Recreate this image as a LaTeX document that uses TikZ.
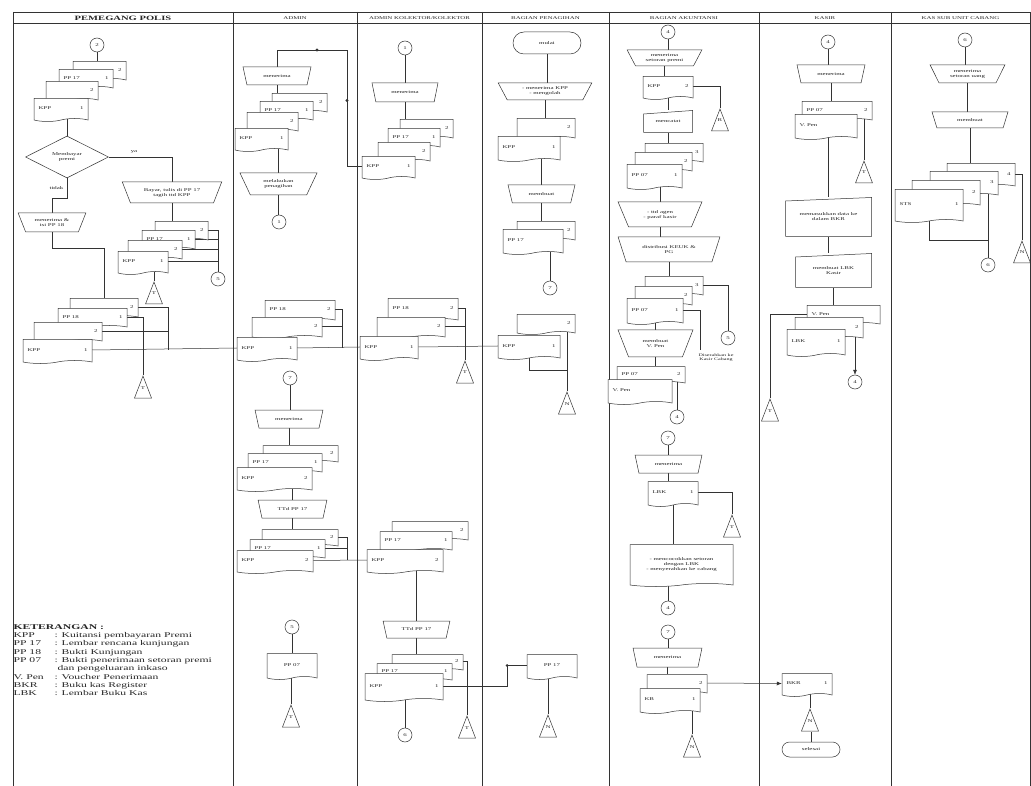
\documentclass[tikz,border=0pt]{standalone}
\usepackage{fontspec}
\setmainfont{Liberation Serif}[FakeStretch=1.6]
\usetikzlibrary{shapes.geometric,shapes.symbols,shapes.misc,decorations.markings,arrows.meta,calc}
\pgfdeclarelayer{background}
\pgfsetlayers{background,main}
\newcommand\mkdoc[7]{\node[doc, minimum width=#4pt-#2pt, minimum height=#5pt-#3pt] (#1) at ({(#2+#4)/2},{(#3+#5)/2}) {\makebox[\dimexpr#4pt-#2pt-9pt\relax]{#6\hfill#7}};}
\newcommand\mktrap[6]{\node[trap, minimum width=#4pt-#2pt, minimum height=#5pt-#3pt] (#1) at ({(#2+#4)/2},{(#3+#5)/2}) {#6};}
\newcommand\mktri[4]{\node[arch] (#1) at (#2,#3) {\raisebox{-4pt}{#4}};}
\newcommand\mkconn[4]{\node[conn] (#1) at (#2,#3) {#4};}
\newcommand\mkman[6]{\node[manin, minimum width=#4pt-#2pt, minimum height=#5pt-#3pt] (#1) at ({(#2+#4)/2},{(#3+#5)/2}) {#6};}
\tikzset{
 x=1pt, y=-1pt,
 every node/.style={font=\fontsize{4.3}{5}\selectfont, text=black!85},
 ln/.style={draw=black!80, line width=0.5pt},
 doc/.style={tape, tape bend top=none, tape bend height=3pt, draw=black!80, line width=0.5pt, fill=white, inner sep=1pt},
 trap/.style={trapezium, shape border rotate=180, trapezium stretches=true, trapezium left angle=58, trapezium right angle=58, draw=black!80, line width=0.5pt, fill=white, inner sep=0pt, align=center},
 conn/.style={circle, draw=black!80, line width=0.5pt, fill=white, minimum size=14pt, inner sep=0pt},
 arch/.style={minimum width=19pt, minimum height=24pt, inner sep=0pt,
   path picture={\draw[draw=black!80, line width=0.5pt] ([shift={(1pt,1pt)}]path picture bounding box.south west) -- ([yshift=-1pt]path picture bounding box.north) -- ([shift={(-1pt,1pt)}]path picture bounding box.south east) -- cycle;}},
 manin/.style={inner sep=1pt, align=center,
   path picture={\draw[draw=black!80, line width=0.5pt] ([shift={(.5pt,.5pt)}]path picture bounding box.south west) -- ([shift={(-.5pt,.5pt)}]path picture bounding box.south east) -- ([shift={(-.5pt,-.5pt)}]path picture bounding box.north east) -- ([shift={(.5pt,-4pt)}]path picture bounding box.north west) -- cycle;}},
 term/.style={rounded rectangle, draw=black!80, line width=0.5pt, fill=white, inner sep=0pt},
 hdr/.style={font=\fontsize{4.3}{5}\selectfont},
 dots/.style={decoration={markings, mark=at position 0.37 with {\fill[black!80] (0,0) circle (1.6pt);}, mark=at position 0.74 with {\fill[black!80] (0,0) circle (1.6pt);}}, postaction={decorate}},
}
\begin{document}
\begin{tikzpicture}
\useasboundingbox (0,0) rectangle (1031,786);
% ---------- headers
\node[font=\bfseries\fontsize{6.6}{7}\selectfont] (hd1) at (123,18) {PEMEGANG POLIS};
\node[hdr] (hd2) at (295,18) {ADMIN};
\node[hdr] (hd3) at (419.5,18) {ADMIN KOLEKTOR/KOLEKTOR};
\node[hdr] (hd4) at (545.5,18) {BAGIAN PENAGIHAN};
\node[hdr] (hd5) at (684,18) {BAGIAN AKUNTANSI};
\node[hdr] (hd6) at (825,18) {KASIR};
\node[hdr] (hd7) at (960.5,18) {KAS SUB UNIT CABANG};
% ---------- lane 1
\mkconn{c1}{97}{45}{2}
\mkdoc{p1a}{73}{60}{126}{80}{}{2}
\mkdoc{p1b}{59}{68}{113}{88}{PP 17}{1}
\mkdoc{p1c}{46}{80}{98}{100}{}{2}
\mkdoc{p1d}{34}{97}{88}{120}{KPP}{1}
\node[diamond, aspect=2, draw=black!80, line width=0.5pt, fill=white, minimum width=83pt, minimum height=42pt, inner sep=0pt, align=center] (d1) at (67,157) {Membayar\\premi};
\mktrap{t1}{122}{182}{222}{203}{Bayar, tulis di PP 17\\tagih ttd KPP}
\mkdoc{p2a}{155}{220}{208}{240}{}{2}
\mkdoc{p2b}{142}{229}{195}{249}{PP 17}{1}
\mkdoc{p2c}{128}{239}{182}{259}{}{2}
\mkdoc{p2d}{118}{250}{168}{273}{KPP}{1}
\mkconn{c2}{218}{279}{5}
\mktri{tr1}{154}{293}{T}
\mktrap{t2}{18}{213}{86}{232}{menerima \&\\isi PP 18}
\mkdoc{p3a}{70}{297}{138}{317}{}{2}
\mkdoc{p3b}{58}{307}{127}{327}{PP 18}{1}
\mkdoc{p3c}{34}{321}{102}{341}{}{2}
\mkdoc{p3d}{23}{338}{92}{362}{KPP}{1}
\mktri{tr2}{143}{387}{T}
\coordinate (j1) at (168,350);
% legend
\node[anchor=north west, align=left, font=\fontsize{7.3}{8.3}\selectfont] (legend) at (10,621) {%
\textbf{KETERANGAN :}\\
\makebox[41pt][l]{KPP}: Kuitansi pembayaran Premi\\
\makebox[41pt][l]{PP 17}: Lembar rencana kunjungan\\
\makebox[41pt][l]{PP 18}: Bukti Kunjungan\\
\makebox[41pt][l]{PP 07}: Bukti penerimaan setoran premi\\
\makebox[44pt][l]{}dan pengeluaran inkaso\\
\makebox[41pt][l]{V. Pen}: Voucher Penerimaan\\
\makebox[41pt][l]{BKR}: Buku kas Register\\
\makebox[41pt][l]{LBK}: Lembar Buku Kas};
% ---------- lane 2
\mktrap{t3}{243}{67}{311}{85}{menerima}
\mkdoc{p4a}{272}{92}{327}{112}{}{2}
\mkdoc{p4b}{260}{100}{313}{120}{PP 17}{1}
\mkdoc{p4c}{247}{111}{298}{131}{}{2}
\mkdoc{p4d}{235}{127}{288}{150}{KPP}{1}
\mktrap{t4}{240}{173}{317}{195}{melakukan\\penagihan}
\mkconn{c3}{279}{222}{1}
\mkdoc{q1a}{265}{299}{335}{320}{PP 18}{2}
\mkdoc{q1b}{252}{316}{322}{337}{}{2}
\mkdoc{q1c}{237}{336}{297}{360}{KPP}{1}
\coordinate (j2) at (342,348);
\mkconn{c4}{290}{378}{7}
\mktrap{t5}{255}{410}{323}{428}{menerima}
\mkdoc{u1a}{263}{444}{338}{462}{}{2}
\mkdoc{u1b}{248}{452}{322}{472}{PP 17}{1}
\mkdoc{u1c}{237}{466}{312}{490}{KPP}{2}
\mktrap{t6}{258}{500}{327}{518}{TTd PP 17}
\mkdoc{u2a}{262}{528}{338}{546}{}{2}
\mkdoc{u2b}{250}{538}{325}{558}{PP 17}{1}
\mkdoc{u2c}{237}{549}{313}{572}{KPP}{2}
\coordinate (j3) at (347,560);
\mkconn{c6}{292}{627}{5}
\mkdoc{x1}{267}{652}{317}{678}{\hfill PP 07}{}
\mktri{tr7}{291}{716}{T}
% ---------- lane 3
\mkconn{c5a}{405}{48}{1}
\mktrap{t7a}{372}{83}{438}{102}{menerima}
\mkdoc{a3a}{400}{118}{453}{138}{}{2}
\mkdoc{a3b}{388}{127}{440}{147}{PP 17}{1}
\mkdoc{a3c}{378}{141}{430}{161}{}{2}
\mkdoc{a3d}{362}{155}{415}{178}{KPP}{1}
\mkdoc{r1a}{388}{297}{458}{320}{PP 18}{2}
\mkdoc{r1b}{377}{316}{445}{337}{}{2}
\mkdoc{r1c}{360}{335}{418}{359}{KPP}{1}
\mktri{tr3}{465}{372}{T}
\mkdoc{v1a}{392}{520}{468}{540}{}{2}
\mkdoc{v1b}{380}{530}{452}{550}{PP 17}{1}
\mkdoc{v1c}{367}{548}{443}{572}{KPP}{2}
\mktrap{t8}{383}{621}{450}{638}{TTd PP 17}
\mkdoc{v2a}{392}{653}{463}{670}{}{2}
\mkdoc{v2b}{377}{662}{452}{680}{PP 17}{1}
\mkdoc{v2c}{365}{672}{443}{700}{KPP}{1}
\mkconn{c7}{405}{735}{6}
\mktri{tr5}{467}{727}{T}
\coordinate (j4) at (507,665.5);
% ---------- lane 4
\node[term, minimum width=68pt, minimum height=22pt] (m1) at (547,43) {mulai};
\mktrap{t9}{498}{83}{592}{100}{- menerima KPP\\- mengolah}
\mkdoc{s1a}{517}{117}{575}{138}{}{2}
\mkdoc{s1b}{498}{135}{560}{160}{KPP}{1}
\mktrap{t10}{508}{185}{575}{203}{membuat}
\mkdoc{s3a}{517}{220}{575}{240}{}{2}
\mkdoc{s3b}{503}{228}{563}{253}{PP 17}{}
\mkconn{c8}{550}{288}{7}
\mkdoc{s2a}{517}{313}{575}{333}{}{2}
\mkdoc{s2b}{498}{334}{560}{358}{KPP}{1}
\mktri{tr4}{567}{403}{N}
\mkdoc{w1}{527}{653}{577}{678}{\hfill PP 17}{}
\mktri{tr6}{548}{726}{N}
% ---------- lane 5
\mkconn{c9}{668}{32}{4}
\mktrap{t11}{627}{50}{702}{66}{menerima\\setoran premi}
\mkdoc{k1}{643}{75}{693}{98}{KPP}{2}
\mktri{tr8}{720}{120}{R}
\mkman{k2}{643}{110}{693}{133}{mencatat}
\mkdoc{k3a}{645}{142}{703}{162}{}{3}
\mkdoc{k3b}{635}{151}{692}{171}{}{2}
\mkdoc{k3c}{627}{163}{682}{188}{PP 07}{1}
\mktrap{t12}{618}{202}{702}{227}{- ttd agen\\- paraf kasir}
\mktrap{t13}{618}{237}{720}{262}{distribusi KEUK \&\\PG}
\mkdoc{k4a}{645}{275}{703}{295}{}{3}
\mkdoc{k4b}{635}{285}{692}{305}{}{2}
\mkdoc{k4c}{627}{297}{683}{323}{PP 07}{1}
\mkconn{c10}{728}{338}{5}
\node[align=center, anchor=north, font=\fontsize{3.8}{4.4}\selectfont] (note) at (716,350) {Diserahkan ke\\Kasir Cabang};
\mktrap{t14}{618}{330}{693}{357}{membuat\\V. Pen}
\mkdoc{k5a}{617}{365}{685}{383}{PP 07}{2}
\mkdoc{k5b}{608}{378}{672}{403}{V. Pen}{}
\mkconn{c11}{677}{417}{4}
\mkconn{c12}{668}{438}{7}
\mktrap{t15}{635}{455}{702}{473}{menerima}
\mkdoc{k6}{648}{480}{698}{505}{LBK}{1}
\mktri{tr9}{732}{526}{T}
\node[doc, align=center, minimum width=103pt, minimum height=42pt] (k7) at (681.5,564) {- mencocokkan setoran\\dengan LBK\\- menyerahkan ke cabang};
\mkconn{c13}{668}{608}{4}
\mkconn{c14}{668}{632}{7}
\mktrap{t16}{633}{648}{702}{667}{menerima}
\mkdoc{k8a}{647}{673}{707}{693}{}{2}
\mkdoc{k8b}{640}{687}{700}{712}{KB}{1}
\mktri{tr10}{692}{746}{N}
% ---------- lane 6
\mkconn{c15}{828}{42}{4}
\mktrap{t17}{797}{65}{865}{83}{menerima}
\mkdoc{g1a}{802}{100}{872}{120}{PP 07}{2}
\mkdoc{g1b}{795}{113}{857}{138}{V. Pen}{}
\mktri{tr12}{864}{172}{T}
\mkman{g2}{785}{197}{872}{237}{memasukkan data ke\\dalam BKR}
\mkman{g3}{795}{253}{872}{288}{membuat LBK\\Kasir}
\mkdoc{g4a}{807}{304}{880}{324}{V. Pen}{}
\mkdoc{g4b}{795}{316}{863}{338}{}{2}
\mkdoc{g4c}{787}{328}{845}{355}{LBK}{1}
\mkconn{c16}{855}{382}{4}
\mktri{tr13}{770}{410}{T}
\mkdoc{n1}{782}{672}{832}{695}{BKR}{1}
\mktri{tr11}{810}{720}{N}
\node[term, minimum width=58pt, minimum height=15pt] (e1) at (811,749.5) {selesai};
% ---------- lane 7
\mkconn{c17}{965}{40}{6}
\mktrap{t18}{930}{65}{1005}{83}{menerima\\setoran uang}
\mktrap{t19}{932}{112}{1008}{128}{membuat}
\mkdoc{h1a}{947}{162}{1015}{186}{}{4}
\mkdoc{h1b}{930}{170}{998}{195}{}{3}
\mkdoc{h1c}{912}{179}{980}{205}{}{2}
\mkdoc{h1d}{895}{188}{963}{221}{STS}{1}
\mktri{tr14}{1022}{252}{N}
\mkconn{c18}{988}{265}{6}

\begin{pgfonlayer}{background}
\fill[white] (0,0) rectangle (1031,786);
\foreach \xx in {13,233,357,482,609,759,891,1030} {\draw[ln] (\xx,12) -- (\xx,786);}
\draw[ln] (13,12) -- (1030,12);
\draw[ln] (13,23) -- (1030,23);
% lane 1
\draw[ln] (c1) -- (c1 |- p1a.north);
\draw[ln] (d1.north) -- (d1.north |- p1d.south);
\draw[ln] (d1.east) -| node[pos=0.2, above] {ya} (t1.north);
\draw[ln] (d1.south) -- node[pos=0.5, left] {tidak} (d1.south |- 0,198) -| (t2.north);
\draw[ln] (t1.south) -- (t1.south |- p2a.north);
\draw[ln] (p2a.east) -| (c2.north);
\draw[ln] (p2b.east) -- (p2b.east -| c2.north);
\draw[ln] (p2c.east) -- (p2c.east -| c2.north);
\draw[ln] (p2d.east) -- (p2d.east -| c2.north);
\draw[ln] (tr1.north) -- (tr1.north |- p2d.south);
\draw[ln] (t2.south) -- (t2.south |- 0,248) -| (p3a.north);
\draw[ln] (p3a.east) -| (j1);
\draw[ln] (p3c.east) -- (p3c.east -| j1);
\draw[ln] (p3b.east) -| (tr2.north);
\draw[ln] (p3d.east) -- (q1c.west);
% lane 2
\draw[ln, dots] (a3d.west) -| (347,50) -| (t3.north);
\draw[ln] (t3.south) -- (t3.south |- p4a.north);
\draw[ln] (t4.north) -- (t4.north |- p4d.south);
\draw[ln] (t4.south) -- (t4.south |- c3.north);
\draw[ln] (q1a.east) -| (j2);
\draw[ln] (q1b.east) -- (q1b.east -| j2);
\draw[ln] (q1c.east) -- (r1c.west);
\draw[ln] (c4.south) -- (c4.south |- t5.north);
\draw[ln] (t5.south) -- (t5.south |- u1a.north);
\draw[ln] (t6.north) -- (t6.north |- u1c.south);
\draw[ln] (t6.south) -- (t6.south |- u2a.north);
\draw[ln] (u2a.east) -| (j3);
\draw[ln] (u2b.east) -- (u2b.east -| j3);
\draw[ln] (u2c.east) -- (v1c.west);
\draw[ln] (c6.south) -- (c6.south |- x1.north);
\draw[ln] (tr7.north) -- (tr7.north |- x1.south);
% lane 3
\draw[ln] (c5a.south) -- (c5a.south |- t7a.north);
\draw[ln] (t7a.south) -- (t7a.south |- a3a.north);
\draw[ln] (r1a.east) -| (tr3.north);
\draw[ln] (r1b.east) -- (r1b.east -| tr3.north);
\draw[ln] (r1c.east) -- (s2b.west);
\draw[ln] (t8.north) -- (t8.north |- v1c.south);
\draw[ln] (t8.south) -- (t8.south |- v2a.north);
\draw[ln] (c7.north) -- (c7.north |- v2c.south);
\draw[ln] (v2a.east) -| (tr5.north);
\draw[ln] (v2c.east) -| (j4) -- (w1.west);
\fill[black!80] (j4) circle (1.5pt);
% lane 4
\draw[ln] (m1.south) -- (m1.south |- t9.north);
\draw[ln] (t9.south) -- (t9.south |- s1a.north);
\draw[ln] (t10.north) -- (t10.north |- s1b.south);
\draw[ln] (t10.south) -- (t10.south |- s3a.north);
\draw[ln] (c8.north) -- (c8.north |- s3b.south);
\draw[ln] (tr4.north) -- (tr4.north |- s2a.south);
\draw[ln] (s2b.south) |- (tr4.north |- 0,370);
\draw[ln] (tr6.north) -- (tr6.north |- w1.south);
% lane 5
\draw[ln] (c9.south) -- (c9.south |- t11.north);
\draw[ln] (t11.south) -- (t11.south |- k1.north);
\draw[ln] (k1.east) -| (tr8.north);
\draw[ln] (k1.south) -- (k1.south |- k2.north);
\draw[ln] (k2.south) -- (k2.south |- k3a.north);
\draw[ln] (t12.north) -- (t12.north |- k3c.south);
\draw[ln] (t12.south) -- (t12.south |- t13.north);
\draw[ln] (t13.south) -- (t13.south |- k4a.north);
\draw[ln] (k4a.east) -| (c10.north);
\draw[ln] (k4c.east) -| ([xshift=-16pt]note.north);
\draw[ln] (t14.north) -- (t14.north |- k4c.south);
\draw[ln] (t14.south) -- (t14.south |- k5a.north);
\draw[ln] (c11.north) -- (c11.north |- k5a.south);
\draw[ln] (c12.south) -- (c12.south |- t15.north);
\draw[ln] (t15.south) -- (t15.south |- k6.north);
\draw[ln] (k6.east) -| (tr9.north);
\draw[ln] (k6.south) -- (k6.south |- k7.north);
\draw[ln] (c13.north) -- (c13.north |- k7.south);
\draw[ln] (c14.south) -- (c14.south |- t16.north);
\draw[ln] (t16.south) -- (t16.south |- k8a.north);
\draw[ln, -{Latex[length=5pt,width=4pt]}] (k8a.east) -- (n1.west);
\draw[ln] (tr10.north) -- (tr10.north |- k8b.south);
% lane 6
\draw[ln] (tr11.north) -- (tr11.north |- n1.south);
\draw[ln] (e1.north) -- (e1.north |- tr11.south);
\draw[ln] (c15.south) -- (c15.south |- t17.north);
\draw[ln] (t17.south) -- (t17.south |- g1a.north);
\draw[ln] (tr12.north) -- (tr12.north |- g1a.south);
\draw[ln] (g2.north) -- (g2.north |- g1b.south);
\draw[ln] (g2.south) -- (g2.south |- g3.north);
\draw[ln] (g3.south) -- (g3.south |- g4a.north);
\draw[ln] (g4a.west) -| (tr13.north);
\draw[ln, -{Latex[length=5pt,width=4pt]}] (c16.north |- g4b.south) -- (c16.north);
% lane 7
\draw[ln] (c17.south) -- (c17.south |- t18.north);
\draw[ln] (t18.south) -- (t18.south |- t19.north);
\draw[ln] (t19.south) -- (t19.south |- h1a.north);
\draw[ln] (h1a.east) -| (tr14.north);
\draw[ln] (h1d.south) -- (h1d.south |- 0,240) -| (c18.north);
\draw[ln] (c18.north) -- (c18.north |- h1b.south);
\end{pgfonlayer}
\end{tikzpicture}
\end{document}
